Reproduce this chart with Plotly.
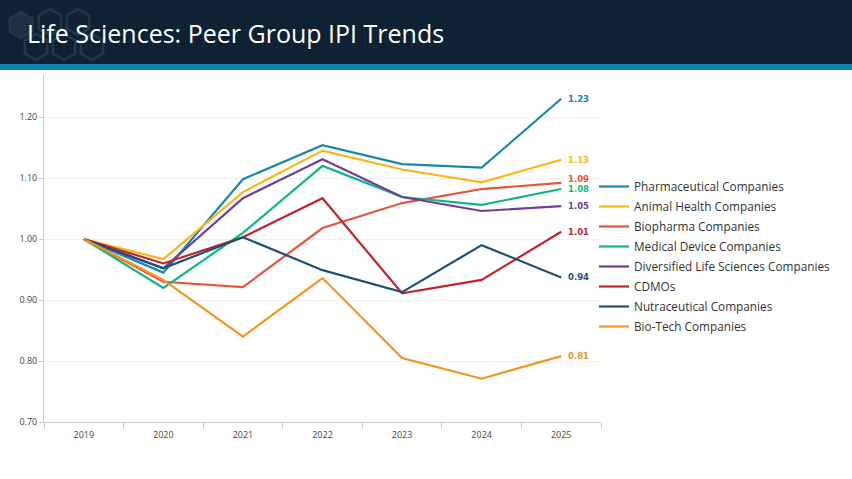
import math
import plotly.graph_objects as go

years = ["2019", "2020", "2021", "2022", "2023", "2024", "2025"]

pharma = [1.00, 0.945, 1.098, 1.154, 1.123, 1.117, 1.23]
animal = [1.00, 0.967, 1.077, 1.145, 1.114, 1.093, 1.13]
biopharma = [1.00, 0.930, 0.921, 1.018, 1.059, 1.082, 1.092]
meddevice = [1.00, 0.920, 1.010, 1.120, 1.069, 1.056, 1.082]
diversified = [1.00, 0.952, 1.067, 1.131, 1.069, 1.046, 1.054]
cdmo = [1.00, 0.960, 1.003, 1.067, 0.911, 0.933, 1.012]
nutra = [1.00, 0.952, 1.003, 0.949, 0.913, 0.990, 0.937]
biotech = [1.00, 0.933, 0.840, 0.936, 0.805, 0.771, 0.808]

series_names = [
    "Pharmaceutical Companies",
    "Animal Health Companies",
    "Biopharma Companies",
    "Medical Device Companies",
    "Diversified Life Sciences Companies",
    "CDMOs",
    "Nutraceutical Companies",
    "Bio-Tech Companies",
]
series_values = [pharma, animal, biopharma, meddevice, diversified, cdmo, nutra, biotech]
colors = ["#1589a9", "#fdb515", "#e8533b", "#0fb585", "#6e3e9e", "#c0272d", "#1f4f77", "#f5931f"]
label_yshift = [0, 0, 4, 0, 0, 0, 0, 0]

title_text = "Life Sciences: Peer Group IPI Trends"

W, H = 852, 479
L, R, T, B = 44, 601, 75, 422

def px_x(px):
    return (px - L) / (R - L)

def px_y(py):
    return (B - py) / (B - T)

fig = go.Figure()

for i, (name, vals, col) in enumerate(zip(series_names, series_values, colors)):
    fig.add_trace(go.Scatter(
        x=years, y=vals, mode="lines", name=name, legendgroup="g%d" % i,
        line=dict(color=col, width=2.2),
        hoverinfo="skip",
    ))

annotations = []
last_idx = len(years) - 1
for vals, col, ys in zip(series_values, colors, label_yshift):
    annotations.append(dict(
        x=last_idx, y=vals[-1], xref="x", yref="y",
        text="<b>%.2f</b>" % vals[-1], showarrow=False,
        xanchor="left", yanchor="middle", xshift=5, yshift=ys,
        font=dict(family="Verdana, DejaVu Sans", size=8.5, color=col),
    ))

annotations.append(dict(
    x=px_x(25), y=px_y(33), xref="paper", yref="paper",
    text=title_text, showarrow=False, xanchor="left", yanchor="middle",
    font=dict(family="Open Sans", size=25, color="#ffffff"),
))

shapes = [
    dict(type="rect", xref="paper", yref="paper",
         x0=px_x(-2), x1=px_x(W + 2), y0=px_y(-2), y1=px_y(64),
         fillcolor="#0e2233", line=dict(width=0), layer="below"),
    dict(type="rect", xref="paper", yref="paper",
         x0=px_x(-2), x1=px_x(W + 2), y0=px_y(64), y1=px_y(70),
         fillcolor="#0d85b1", line=dict(width=0), layer="below"),
]

hexes = [(21, 25, True), (50, 22, False), (78, 22, False), (36, 47, False), (64, 47, False), (92, 47, False)]
for cx, cy, filled in hexes:
    r = 13
    pts = []
    for k in range(6):
        a = math.radians(60 * k + 30)
        pts.append((px_x(cx + r * math.cos(a)), px_y(cy + r * math.sin(a))))
    path = "M " + " L ".join("%f,%f" % p for p in pts) + " Z"
    shapes.append(dict(type="path", xref="paper", yref="paper", path=path,
                       fillcolor="#1c3142" if filled else "rgba(0,0,0,0)",
                       line=dict(color="#22384a", width=2.5), layer="below"))

fig.update_layout(
    width=W, height=H,
    margin=dict(l=L, r=W - R, t=T, b=H - B, autoexpand=False),
    paper_bgcolor="#ffffff", plot_bgcolor="#ffffff",
    showlegend=True,
    legend=dict(
        x=px_x(594), y=px_y(172), xanchor="left", yanchor="top",
        font=dict(family="Open Sans", size=11.8, color="#333333"),
        bgcolor="rgba(0,0,0,0)", itemwidth=30, tracegroupgap=1,
    ),
    annotations=annotations,
    shapes=shapes,
    xaxis=dict(
        type="category", range=[-0.5, 6.5],
        showgrid=False, showline=True, linecolor="#c8c8c8", linewidth=1,
        ticks="outside", tickson="boundaries", ticklen=5, tickcolor="#c8c8c8",
        tickfont=dict(family="Open Sans", size=9, color="#444444"),
        ticklabelstandoff=4,
        fixedrange=True,
    ),
    yaxis=dict(
        range=[0.70, 1.269], tickvals=[0.7, 0.8, 0.9, 1.0, 1.1, 1.2],
        tickformat=".2f",
        showgrid=True, gridcolor="#f0f0f0", gridwidth=1,
        zeroline=False,
        showline=True, linecolor="#c8c8c8", linewidth=1,
        ticks="outside", ticklen=4, tickcolor="#c8c8c8",
        tickfont=dict(family="Open Sans", size=9, color="#444444"),
        fixedrange=True,
    ),
)

fig.write_html("out.html")
